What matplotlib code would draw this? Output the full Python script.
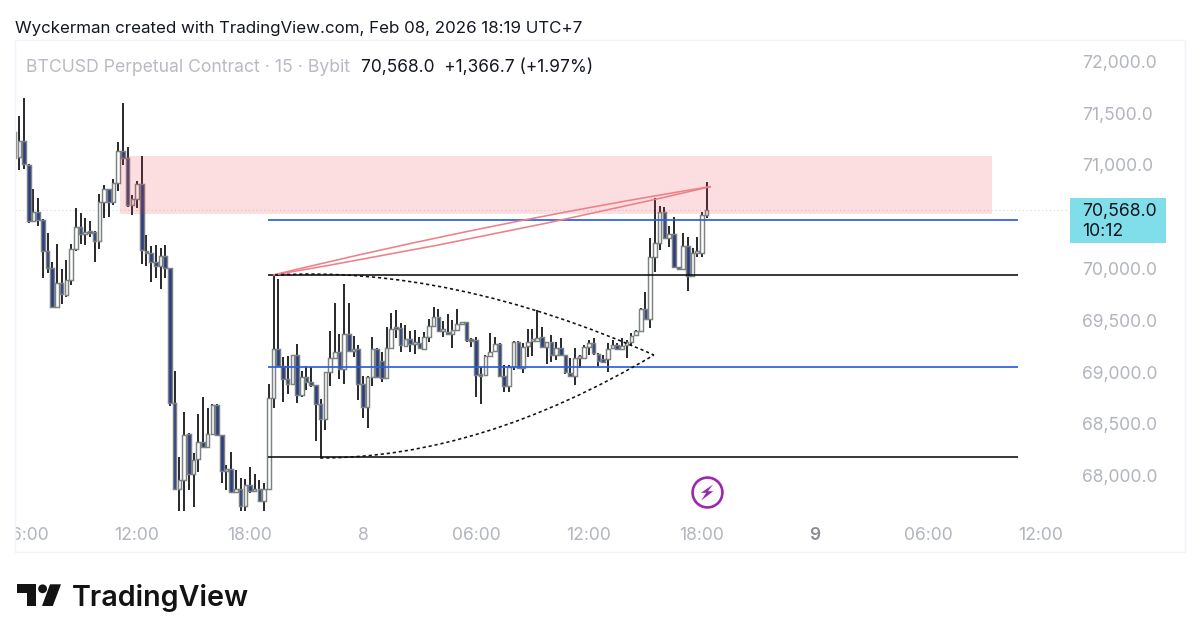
import matplotlib
matplotlib.use("Agg")
import matplotlib.pyplot as plt
from matplotlib.patches import Rectangle, Polygon, Circle, PathPatch
from matplotlib.path import Path
from matplotlib.transforms import Affine2D, Bbox

plt.rcParams['font.family'] = ['Inter', 'DejaVu Sans']

opens = [71065,71081,71236,71004,70463,70550,70469,70173,70002,69631,
 69857,69744,69889,70186,70398,70331,70357,70357,70270,70640,
 70765,70646,70823,71139,71068,70614,70675,70817,70173,70147,
 70067,70024,70121,70002,68698,67867,67957,68402,68015,68157,
 68328,68273,68402,68682,68389,68047,68060,67844,67867,67706,
 67906,67854,67867,67758,67873,68746,69223,69058,68930,68881,
 69161,68778,68955,68907,68875,68688,68543,69004,69139,69197,
 69026,69368,69203,69219,68881,68659,68955,69223,69107,68939,
 69236,69422,69422,69254,69319,69270,69277,69222,69341,69444,
 69528,69399,69390,69367,69406,69460,69486,69309,69309,68971,
 68971,69158,69206,69270,68961,68865,69045,69293,69035,69251,
 69299,69303,69335,69238,69293,69164,69228,69164,68993,68961,
 69132,69138,69245,69277,69174,69125,69125,69228,69261,69219,
 69261,69293,69357,69399,69606,69509,70108,70250,70549,70292,
 70331,70012,69992,70218,69928,70147,70153,70517]
closes = [71322,71236,71010,70463,70550,70469,70173,70002,69625,69857,
 69750,69889,70185,70398,70331,70357,70347,70270,70640,70765,
 70646,70823,71139,71068,70614,70669,70817,70179,70147,70067,
 70024,70121,70002,68698,67867,67957,68392,68015,68150,68328,
 68273,68402,68682,68389,68047,68060,67844,67867,67706,67906,
 67854,67867,67758,67873,68746,69223,69058,68930,68881,69161,
 68778,68955,68907,68875,68688,68543,69004,69139,69197,69026,
 69368,69203,69219,68881,68659,68955,69223,68955,68939,69236,
 69416,69412,69261,69319,69270,69283,69228,69341,69444,69528,
 69399,69406,69367,69406,69460,69486,69309,69303,68971,68965,
 69158,69196,69270,68961,68865,69045,69293,69035,69245,69293,
 69309,69332,69238,69293,69164,69228,69164,69003,68961,69132,
 69138,69245,69277,69180,69106,69100,69219,69261,69219,69251,
 69293,69351,69399,69606,69509,70108,70250,70549,70292,70331,
 70018,69992,70218,69928,70147,70153,70517,70568]
highs = [71355,71474,71645,71010,70765,70678,70476,70340,70066,70237,
 69992,70082,70237,70582,70540,70485,70463,70366,70720,70807,
 70770,70862,71226,71603,71178,70711,70849,71091,70324,70218,
 70228,70195,70228,70002,69013,68176,68617,68414,68215,68595,
 68756,68650,68691,68691,68389,68102,68225,68054,67973,67964,
 68086,68015,67957,67931,68884,69938,69896,69149,69155,69165,
 69268,69013,69058,69046,68875,68736,69004,69397,69664,69368,
 69850,69670,69348,69261,68962,68962,69335,69229,69197,69432,
 69567,69599,69470,69454,69399,69406,69335,69390,69509,69631,
 69605,69496,69560,69502,69605,69486,69486,69325,69335,69045,
 69164,69373,69341,69277,69068,69068,69299,69303,69283,69412,
 69412,69599,69431,69293,69357,69293,69325,69164,69132,69228,
 69164,69261,69309,69325,69180,69164,69277,69309,69277,69325,
 69309,69373,69406,69615,69777,70292,70678,70604,70591,70411,
 70501,70018,70340,70308,70195,70308,70549,70839]
lows = [70695,70952,70959,70443,70460,70411,69905,69960,69615,69621,
 69657,69728,69840,70173,70237,70228,70302,70067,70186,70485,
 70501,70614,70753,71000,70598,70517,70582,70044,70028,69873,
 69905,69799,69905,68675,67861,67661,67661,67861,67700,68038,
 68263,68273,68402,68389,67925,67861,67835,67829,67661,67661,
 67835,67854,67758,67661,67873,68649,69046,68714,68788,68881,
 68704,68762,68827,68859,68337,68183,68440,68865,69140,68930,
 68884,69197,69149,68730,68553,68456,68865,68955,68907,68930,
 69229,69325,69196,69238,69196,69174,69219,69219,69293,69438,
 69390,69335,69357,69228,69399,69454,69293,69245,68762,68691,
 68971,69154,69206,68948,68810,68810,69019,69035,68987,69148,
 69154,69293,69238,69077,69100,69116,69164,68980,68961,68874,
 69035,69132,69164,69164,69058,69084,69003,69219,69212,69212,
 69132,69251,69357,69400,69509,69423,69970,70179,70292,70211,
 70012,69986,69986,69786,69915,70108,70115,70485]

# 70,500.0 is hidden behind the last-price label in the reference
price_ticks = [68000, 68500, 69000, 69500, 70000, 71000, 71500, 72000]
time_ticks = [2, 26, 50, 74, 98, 122, 146, 170, 194, 218]
time_labels = ['06:00', '12:00', '18:00', '8', '06:00', '12:00', '18:00', '9', '06:00', '12:00']

zone_start, zone_end = 22.4, 207.6
zone_low, zone_high = 70527, 71087
line_start, line_end = 53.8, 213.1
blue_levels = [70469, 69048]
black_levels = [69937, 68174]
red_upper_idx = [54.9, 101.4, 147.9]
red_upper_price = [69937, 70449, 70792]
red_lower_idx = [54.9, 101.4, 147.9]
red_lower_price = [69937, 70295, 70792]
curve_top_idx = [55.3, 92.5, 135.8]
curve_top_price = [69937, 70034, 69164]
curve_bot_idx = [64.9, 98.9, 135.8]
curve_bot_price = [68169, 68169, 69164]
last_price = 70568
badge_idx, badge_price = 147.1, 67838

BAR_PX = 4.708
X0_PX = 14.6
PX_PER_PRICE = 0.1035
Y69K_PX = 372.0
BG = 'white'
GRAY = '#b2b5be'
CURVE_CODES = [Path.MOVETO, Path.CURVE3, Path.CURVE3]

fig = plt.figure(figsize=(12, 6.4), dpi=100, facecolor=BG)
px = Affine2D().scale(1 / 1200, -1 / 640).translate(0, 1) + fig.transFigure

L, R, T, B = 15, 1068, 40, 516
ax = fig.add_axes([L / 1200, 1 - B / 640, (R - L) / 1200, (B - T) / 640])
ax.set_facecolor('none')
ax.set_xlim((L - X0_PX) / BAR_PX, (R - X0_PX) / BAR_PX)
ax.set_ylim(69000 + (Y69K_PX - B) / PX_PER_PRICE, 69000 + (Y69K_PX - T) / PX_PER_PRICE)
for s in ax.spines.values():
    s.set_visible(False)

fig.add_artist(Rectangle((14.5, 39.5), 1170.5, 512.5, transform=px, fc='none', ec='#f0f3fa', lw=1.0))

# candles
idx = list(range(len(opens)))
ax.vlines(idx, lows, highs, color='#15171a', lw=1.3, zorder=2)
for i, o, c in zip(idx, opens, closes):
    up = c >= o
    h = max(abs(c - o), 18)
    ax.add_patch(Rectangle((i - 0.38, min(o, c)), 0.76, h,
                           fc='#ffffff' if up else '#2a3d82',
                           ec='#7c8181', lw=1.05, zorder=3))

# current price dotted
ax.axhline(last_price, color='#d5d8df', lw=0.8, ls=(0, (1, 2.5)), zorder=1)

# zone
ax.add_patch(Rectangle((zone_start, zone_low), zone_end - zone_start, zone_high - zone_low,
                       fc='#f23645', alpha=0.165, ec='none', zorder=4))

for lv in black_levels:
    ax.hlines(lv, line_start, line_end, color='#0c0c0c', lw=1.15, zorder=5)
for lv in blue_levels:
    ax.hlines(lv, line_start, line_end, color='#2b5fdc', lw=1.25, zorder=5)

for ci, cp in [(red_upper_idx, red_upper_price), (red_lower_idx, red_lower_price)]:
    path = Path(list(zip(ci, cp)), CURVE_CODES)
    ax.add_patch(PathPatch(path, fc='none', ec='#ee8088', lw=1.15, zorder=5))

for ci, cp in [(curve_top_idx, curve_top_price), (curve_bot_idx, curve_bot_price)]:
    path = Path(list(zip(ci, cp)), CURVE_CODES)
    ax.add_patch(PathPatch(path, fc='none', ec='#111111', lw=1.15, ls=(0, (2, 1.8)), zorder=5))

# axes ticks
ax.yaxis.tick_right()
ax.set_yticks(price_ticks)
ax.set_yticklabels([f'{p:,.1f}' for p in price_ticks], fontsize=12.6, color=GRAY)
ax.tick_params(axis='y', length=0, pad=10)
ax.set_xticks(time_ticks)
ax.set_xticklabels(time_labels, fontsize=12.6, color=GRAY)
ax.tick_params(axis='x', length=0, pad=7.8)
clip = Bbox.from_extents(15, 0, 1200, 640)
for lab, txt in zip(ax.get_xticklabels(), time_labels):
    lab.set_clip_box(clip)
    lab.set_clip_on(True)
    if txt == '9':
        lab.set_color('#8a8d98')
        lab.set_fontweight('semibold')

# badge
purple = '#9c27b0'
ax.plot([badge_idx], [badge_price], marker='o', ms=21.5, mfc='none', mec=purple, mew=1.9, zorder=6)
fig.add_artist(Polygon([(713, 484.5), (701, 492.8), (706.1, 492.8), (701.3, 500.5), (713.3, 491.2), (708, 491.2)],
                       transform=px, fc=purple, ec='none'))

# last price label
fig.add_artist(Rectangle((1070, 198), 96, 45, transform=px, fc='#80deea', ec='none'))
fig.text(1082 / 1200, 1 - 221.5 / 640, '70,568.0\n10:12', fontsize=12.7, color='#10141c',
         va='center', ha='left', linespacing=1.22)

# header and legend
fig.text(15 / 1200, 1 - 28 / 640, 'Wyckerman created with TradingView.com, Feb 08, 2026 18:19 UTC+7',
         fontsize=12.2, color='#131722', va='center', ha='left')
fig.text(26 / 1200, 1 - 67.5 / 640, 'BTCUSD Perpetual Contract \u00b7 15 \u00b7 Bybit',
         fontsize=12.7, color='#b8bbc3', va='center', ha='left')
fig.text(361 / 1200, 1 - 67.5 / 640, '70,568.0  +1,366.7 (+1.97%)',
         fontsize=12.45, color='#131722', va='center', ha='left')

# logo
logo = '#131313'
fig.add_artist(Polygon([(17.3, 584.3), (35.5, 584.3), (35.5, 606), (26.5, 606), (26.5, 593), (17.3, 593)],
                       transform=px, fc=logo, ec='none'))
fig.add_artist(Circle((42.6, 588.8), 4.4, transform=px, fc=logo, ec='none'))
fig.add_artist(Polygon([(50, 584.3), (61, 584.3), (52.8, 606), (42, 606)], transform=px, fc=logo, ec='none'))
fig.text(72 / 1200, 1 - 606 / 640, 'TradingView', fontsize=20.7, fontweight='semibold', color=logo,
         va='baseline', ha='left')

fig.savefig('out.png', dpi=100, facecolor=BG)
